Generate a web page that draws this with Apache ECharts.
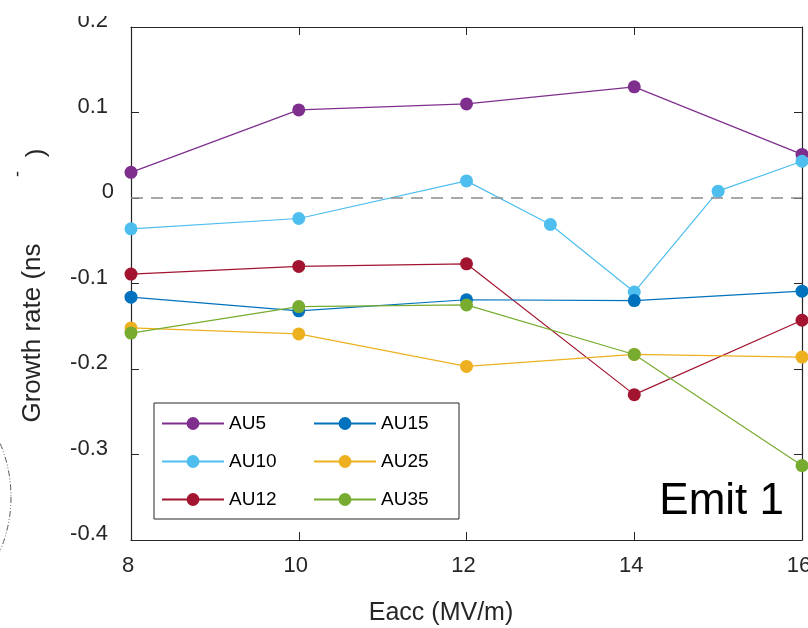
<!DOCTYPE html>
<html>
<head>
<meta charset="utf-8">
<script src="https://cdn.jsdelivr.net/npm/echarts@6/dist/echarts.min.js"></script>
<style>
html,body{margin:0;padding:0;background:#fff;}
#chart{width:808px;height:628px;}
</style>
</head>
<body>
<div id="chart"></div>
<script>
// ---- data ----
var xMain = [8, 10, 12, 14, 16];
var xAU10 = [8, 10, 12, 13, 14, 15, 16];
var au5  = [0.030, 0.103, 0.110, 0.130, 0.051];
var au10 = [-0.036, -0.024, 0.020, -0.031, -0.110, 0.008, 0.043];
var au12 = [-0.089, -0.080, -0.077, -0.230, -0.143];
var au15 = [-0.116, -0.132, -0.119, -0.120, -0.109];
var au25 = [-0.152, -0.159, -0.197, -0.183, -0.186];
var au35 = [-0.158, -0.127, -0.125, -0.183, -0.313];
var seriesNames = ['AU5', 'AU10', 'AU12', 'AU15', 'AU25', 'AU35'];
var xTicks = [8, 10, 12, 14, 16];
var yTicks = [-0.4, -0.3, -0.2, -0.1, 0, 0.1, 0.2];
var xLabel = 'Eacc (MV/m)';
var yLabel = 'Growth rate (ns';
var annotation = 'Emit 1';

var colors = ['#7E2F8E', '#4DBEEE', '#A2142F', '#0072BD', '#EDB120', '#77AC30'];
var font = 'Arial, "Liberation Sans", Helvetica, sans-serif';
var axisColor = '#262626';

function pairs(xs, ys) { return xs.map(function (x, i) { return [x, ys[i]]; }); }
var allData = [pairs(xMain, au5), pairs(xAU10, au10), pairs(xMain, au12),
               pairs(xMain, au15), pairs(xMain, au25), pairs(xMain, au35)];

var chart = echarts.init(document.getElementById('chart'), null, {renderer: 'canvas'});

var series = allData.map(function (d, i) {
  var s = {
    name: seriesNames[i],
    type: 'line',
    data: d,
    symbol: 'circle',
    symbolSize: 13,
    showSymbol: true,
    animation: false,
    color: colors[i],
    lineStyle: {width: 1.2, color: colors[i]},
    itemStyle: {color: colors[i]},
    emphasis: {disabled: true}
  };
  if (i === 0) {
    s.markLine = {
      silent: true,
      symbol: 'none',
      label: {show: false},
      lineStyle: {color: '#8c8c8c', type: [12, 8], width: 1.6},
      data: [{yAxis: 0}],
      animation: false
    };
  }
  return s;
});

var axisCommonX = {
  type: 'value', min: xTicks[0], max: xTicks[xTicks.length - 1], interval: 2,
  axisLine: {show: true, onZero: false, lineStyle: {color: axisColor, width: 1.2}},
  axisTick: {show: true, inside: true, length: 8, lineStyle: {color: axisColor, width: 1}},
  splitLine: {show: false}
};
var axisCommonY = {
  type: 'value', min: yTicks[0], max: yTicks[yTicks.length - 1], interval: 0.1,
  axisLine: {show: true, onZero: false, lineStyle: {color: axisColor, width: 1.2}},
  axisTick: {show: true, inside: true, length: 8, lineStyle: {color: axisColor, width: 1}},
  splitLine: {show: false}
};

var yLabStyle = {fontFamily: font, fontSize: 22, color: '#262626'};

var option = {
  backgroundColor: '#ffffff',
  animation: false,
  grid: {left: 131, right: 6, top: 27, bottom: 88, containLabel: false, outerBoundsMode: 'none'},
  xAxis: [
    Object.assign({}, axisCommonX, {
      position: 'bottom',
      name: xLabel,
      nameLocation: 'middle',
      nameGap: 61,
      nameTextStyle: {fontFamily: font, fontSize: 25, color: '#262626', padding: [0, 51, 0, 0]},
      axisLabel: {fontFamily: font, fontSize: 22, color: '#262626', margin: 15, padding: [0, 6, 0, 0],
        formatter: function (v) { return String(v); }}
    }),
    Object.assign({}, axisCommonX, {
      position: 'top',
      axisLabel: {show: false}
    })
  ],
  yAxis: [
    Object.assign({}, axisCommonY, {
      position: 'left',
      axisLabel: {fontFamily: font, fontSize: 22, color: '#262626', margin: 17,
        formatter: function (v) {
          var t = String(Math.round(v * 10) / 10);
          return t === '0' ? '{z|' + t + '}' : '{a|' + t + '}';
        },
        rich: {
          a: Object.assign({}, yLabStyle, {padding: [0, 6, 12, 0]}),
          z: Object.assign({}, yLabStyle, {padding: [0, 0, 12, 0]})
        }
      }
    }),
    Object.assign({}, axisCommonY, {
      position: 'right',
      axisLabel: {show: false}
    })
  ],
  legend: [
    {
      data: seriesNames.slice(0, 3),
      orient: 'vertical',
      left: 161, top: 414,
      itemWidth: 62, itemHeight: 16, itemGap: 19,
      padding: 0,
      selectedMode: false,
      textStyle: {fontFamily: font, fontSize: 19, color: '#000'}
    },
    {
      data: seriesNames.slice(3, 6),
      orient: 'vertical',
      left: 313, top: 414,
      itemWidth: 62, itemHeight: 16, itemGap: 19,
      padding: 0,
      selectedMode: false,
      textStyle: {fontFamily: font, fontSize: 19, color: '#000'}
    }
  ],
  graphic: [
    {
      type: 'rect', silent: true, z: 0,
      shape: {x: 154, y: 403, width: 305, height: 116},
      style: {fill: '#fff', stroke: '#262626', lineWidth: 1}
    },
    {
      type: 'text', silent: true, x: 33, y: 333, rotation: Math.PI / 2,
      style: {text: yLabel, font: '26px ' + font, fill: '#262626', textAlign: 'center', textVerticalAlign: 'middle'}
    },
    {
      type: 'text', silent: true, x: 18, y: 174, rotation: Math.PI / 2,
      style: {text: '-', font: '18px ' + font, fill: '#262626', textAlign: 'center', textVerticalAlign: 'middle'}
    },
    {
      type: 'text', silent: true, x: 37, y: 153, rotation: Math.PI / 2,
      style: {text: ')', font: '26px ' + font, fill: '#262626', textAlign: 'center', textVerticalAlign: 'middle'}
    },
    {
      type: 'text', silent: true, x: 784, y: 502,
      style: {text: annotation, font: '44px ' + font, fill: '#000', textAlign: 'right', textVerticalAlign: 'middle'}
    },
    {
      type: 'circle', silent: true,
      shape: {cx: -127, cy: 497, r: 138},
      style: {fill: 'none', stroke: '#333', lineWidth: 0.8, lineDash: [6, 2, 1, 2, 1, 2]}
    },
    {
      type: 'rect', silent: true, z: 100,
      shape: {x: 0, y: 0, width: 120, height: 16},
      style: {fill: '#fff'}
    }
  ],
  series: series
};

chart.setOption(option);
</script>
</body>
</html>
